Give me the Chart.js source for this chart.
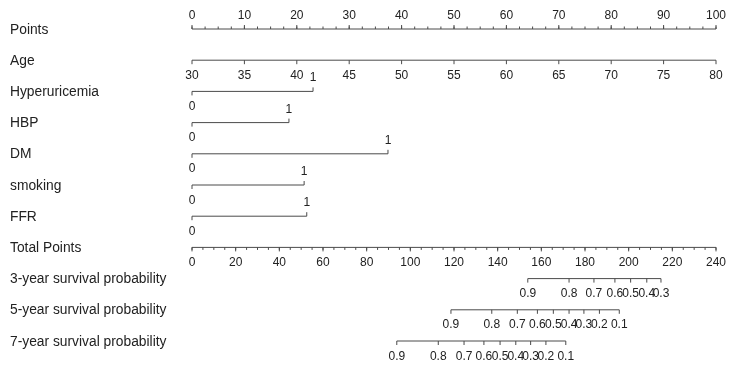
<!DOCTYPE html>
<html>
<head>
<meta charset="utf-8">
<script src="https://cdn.jsdelivr.net/npm/chart.js@4.4.0/dist/chart.umd.min.js"></script>
<style>
  html, body { margin: 0; padding: 0; background: #fff; }
</style>
</head>
<body>
<canvas id="nomo" width="733" height="369"></canvas>
<script>
// row labels, top to bottom
const rowNames = ['Points', 'Age', 'Hyperuricemia', 'HBP', 'DM', 'smoking', 'FFR',
  'Total Points', '3-year survival probability', '5-year survival probability', '7-year survival probability'];

const pointTicks = [0, 10, 20, 30, 40, 50, 60, 70, 80, 90, 100];
const ageTicks = [30, 35, 40, 45, 50, 55, 60, 65, 70, 75, 80];

// binary predictors: points given for value 1
const binaryNames = ['Hyperuricemia', 'HBP', 'DM', 'smoking', 'FFR'];
const binaryScores = [23.1, 18.5, 37.4, 21.4, 21.9];

const totalTicks = [0, 20, 40, 60, 80, 100, 120, 140, 160, 180, 200, 220, 240];

// survival probability scales: label -> total points
const surv3Labels = ['0.9', '0.8', '0.7', '0.6', '0.5', '0.4', '0.3'];
const surv3Totals = [153.8, 172.7, 184.1, 193.7, 200.9, 208.3, 214.8];
const surv5Labels = ['0.9', '0.8', '0.7', '0.6', '0.5', '0.4', '0.3', '0.2', '0.1'];
const surv5Totals = [118.6, 137.3, 149.0, 158.2, 165.5, 172.7, 179.5, 186.6, 195.7];
const surv7Labels = ['0.9', '0.8', '0.7', '0.6', '0.5', '0.4', '0.3', '0.2', '0.1'];
const surv7Totals = [93.8, 112.8, 124.6, 133.7, 141.1, 148.3, 155.1, 162.1, 171.2];

const ageToPts = a => (a - 30) * 2;
const totalToPts = t => t * 100 / 240;

// build every axis row in "points" units
const rows = [];
rows.push({
  row: 0, from: 0, to: 100,
  ticks: pointTicks.map(v => ({ at: v, label: String(v), up: true })),
  minor: Array.from({ length: 41 }, (_, i) => i * 2.5), minorUp: true
});
rows.push({
  row: 1, from: ageToPts(ageTicks[0]), to: ageToPts(ageTicks[ageTicks.length - 1]),
  ticks: ageTicks.map(v => ({ at: ageToPts(v), label: String(v), up: false }))
});
binaryNames.forEach((n, i) => {
  rows.push({
    row: 2 + i, from: 0, to: binaryScores[i],
    ticks: [{ at: 0, label: '0', up: false }, { at: binaryScores[i], label: '1', up: true }]
  });
});
rows.push({
  row: 7, from: 0, to: 100,
  ticks: totalTicks.map(v => ({ at: totalToPts(v), label: String(v), up: false })),
  minor: Array.from({ length: 49 }, (_, i) => totalToPts(i * 5)), minorUp: false
});
[[surv3Labels, surv3Totals], [surv5Labels, surv5Totals], [surv7Labels, surv7Totals]].forEach((s, k) => {
  const pts = s[1].map(totalToPts);
  rows.push({
    row: 8 + k, from: pts[0], to: pts[pts.length - 1],
    ticks: s[0].map((lab, j) => ({ at: pts[j], label: lab, up: false }))
  });
});

const LINE = '#4a4a4a';
const TEXT = '#222';

const nomogramPlugin = {
  id: 'nomogram',
  afterDatasetsDraw(chart) {
    const ctx = chart.ctx;
    const xs = chart.scales.x, ys = chart.scales.y;
    ctx.save();
    ctx.strokeStyle = LINE;
    ctx.lineWidth = 1;
    ctx.fillStyle = TEXT;
    rows.forEach(r => {
      const y = ys.getPixelForValue(r.row);
      (r.minor || []).forEach(v => {
        const x = xs.getPixelForValue(v);
        ctx.beginPath();
        ctx.moveTo(x, y);
        ctx.lineTo(x, r.minorUp ? y - 2.5 : y + 2.5);
        ctx.stroke();
      });
      ctx.font = '12px "Liberation Sans", Arial, sans-serif';
      ctx.textAlign = 'center';
      ctx.textBaseline = 'alphabetic';
      r.ticks.forEach(t => {
        const x = xs.getPixelForValue(t.at);
        ctx.beginPath();
        ctx.moveTo(x, y);
        ctx.lineTo(x, t.up ? y - 4 : y + 4);
        ctx.stroke();
        ctx.fillText(t.label, x, t.up ? y - 10 : y + 18.5);
      });
    });
    ctx.font = '13.8px "Liberation Sans", Arial, sans-serif';
    ctx.textAlign = 'left';
    rowNames.forEach((n, i) => {
      ctx.fillText(n, 10, ys.getPixelForValue(i) + 4.5);
    });
    ctx.restore();
  }
};

new Chart(document.getElementById('nomo'), {
  type: 'line',
  data: {
    datasets: rows.map(r => ({
      data: [{ x: r.from, y: r.row }, { x: r.to, y: r.row }],
      borderColor: LINE,
      borderWidth: 1,
      pointRadius: 0,
      clip: false
    }))
  },
  options: {
    responsive: false,
    animation: false,
    layout: { padding: { left: 192, right: 17, top: 29, bottom: 28 } },
    scales: {
      x: { type: 'linear', min: 0, max: 100, display: false },
      y: { type: 'linear', min: 0, max: 10, reverse: true, display: false }
    },
    plugins: { legend: { display: false }, tooltip: { enabled: false } }
  },
  plugins: [nomogramPlugin]
});
</script>
</body>
</html>
